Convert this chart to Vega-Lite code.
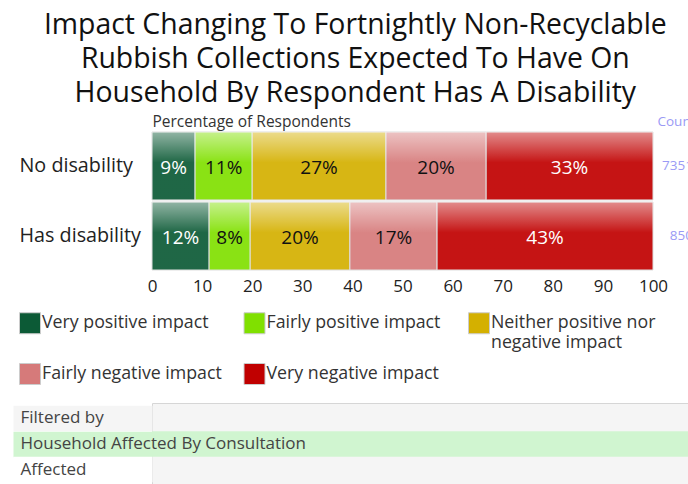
{
  "$schema": "https://vega.github.io/schema/vega-lite/v6.json",
  "background": "white",
  "padding": {"left": -1, "top": 10, "right": 0, "bottom": 0},
  "config": {
    "font": "Open Sans",
    "view": {"stroke": null}
  },
  "title": {
    "text": ["Impact Changing To Fortnightly Non-Recyclable", "Rubbish Collections Expected To Have On", "Household By Respondent Has A Disability"],
    "fontSize": 28.4,
    "fontWeight": "normal",
    "lineHeight": 34,
    "color": "#111111",
    "anchor": "middle",
    "offset": 6,
    "dx": 8
  },
  "columns": 1,
  "bounds": "full",
  "spacing": 108,
  "concat": [
    {
      "width": 501,
      "height": 138,
      "layer": [
        {
          "data": {"name": "bars"},
          "transform": [
            {"stack": "pct", "groupby": ["group"], "sort": [{"field": "order"}], "as": ["x0", "x1"]}
          ],
          "mark": {"type": "bar", "stroke": "#dddddd", "strokeWidth": 1},
          "encoding": {
            "y": {
              "field": "group", "type": "nominal", "sort": ["No disability", "Has disability"],
              "scale": {"paddingInner": 0.03, "paddingOuter": 0},
              "axis": {"title": null, "ticks": false, "domain": false, "labelAlign": "left", "labelPadding": 133, "labelFontSize": 19.75, "labelColor": "#222222"}
            },
            "x": {
              "field": "x0", "type": "quantitative", "scale": {"domain": [0, 100], "nice": false},
              "axis": {"title": null, "values": [0, 10, 20, 30, 40, 50, 60, 70, 80, 90, 100], "grid": false, "domain": false, "ticks": false, "labelPadding": 8, "labelFontSize": 17, "labelColor": "#222222", "labelFlush": false}
            },
            "x2": {"field": "x1"},
            "color": {
              "field": "impact", "type": "nominal",
              "scale": {
                "domain": ["Very positive impact", "Fairly positive impact", "Neither positive nor negative impact", "Fairly negative impact", "Very negative impact"],
                "range": ["#0c5a36", "#80e000", "#d4b000", "#d67a7a", "#c00000"]
              },
              "legend": {
                "title": null,
                "orient": "none",
                "legendX": -133,
                "legendY": 180,
                "direction": "horizontal",
                "columns": 3,
                "gridAlign": "all",
                "columnPadding": 19.5,
                "rowPadding": 9,
                "symbolType": "square",
                "symbolSize": 441,
                "symbolStrokeColor": "#cccccc",
                "symbolStrokeWidth": 1,
                "symbolOpacity": 1,
                "labelFontSize": 17.75,
                "labelColor": "#333333",
                "labelOffset": 1,
                "labelLimit": 300,
                "labelBaseline": "middle",
                "labelExpr": "datum.label == 'Neither positive nor negative impact' ? ['Neither positive nor', 'negative impact'] : (datum.label == 'Very positive impact' || datum.label == 'Fairly positive impact') ? [datum.label, ''] : datum.label"
              }
            }
          }
        },
        {
          "data": {"name": "bars"},
          "transform": [
            {"stack": "pct", "groupby": ["group"], "sort": [{"field": "order"}], "as": ["x0", "x1"]}
          ],
          "mark": {
            "type": "bar", "strokeWidth": 0,
            "color": {"gradient": "linear", "x1": 0, "y1": 0, "x2": 0, "y2": 1, "stops": [
              {"offset": 0, "color": "rgba(255,255,255,0.55)"},
              {"offset": 0.45, "color": "rgba(255,255,255,0.08)"},
              {"offset": 1, "color": "rgba(255,255,255,0.08)"}
            ]}
          },
          "encoding": {
            "y": {"field": "group", "type": "nominal", "sort": ["No disability", "Has disability"], "axis": null},
            "x": {"field": "x0", "type": "quantitative", "axis": null},
            "x2": {"field": "x1"}
          }
        },
        {
          "data": {"name": "bars"},
          "transform": [
            {"stack": "pct", "groupby": ["group"], "sort": [{"field": "order"}], "as": ["x0", "x1"]},
            {"calculate": "(datum.x0 + datum.x1) / 2", "as": "mid"}
          ],
          "mark": {"type": "text", "fontSize": 19, "baseline": "middle", "align": "center", "dy": 2},
          "encoding": {
            "y": {"field": "group", "type": "nominal", "sort": ["No disability", "Has disability"], "axis": null},
            "x": {"field": "mid", "type": "quantitative", "axis": null},
            "text": {"field": "label"},
            "color": {
              "condition": {"test": "datum.impact == 'Very positive impact' || datum.impact == 'Very negative impact'", "value": "#ffffff"},
              "value": "#111111"
            }
          }
        },
        {
          "data": {"name": "counts"},
          "mark": {"type": "text", "fontSize": 13.5, "align": "right", "baseline": "middle", "dx": 40, "color": "#9a9af5"},
          "encoding": {
            "y": {
              "field": "group", "type": "nominal", "sort": ["No disability", "Has disability"],
              "axis": {"orient": "right", "labels": false, "ticks": false, "domain": false, "title": "Count", "titleAngle": 0, "titleAlign": "left", "titleBaseline": "middle", "titleX": 4, "titleY": -11, "titleFontSize": 13.5, "titleFontWeight": "normal", "titleColor": "#9a9af5"}
            },
            "x": {
              "datum": 100, "type": "quantitative",
              "axis": {"orient": "top", "labels": false, "ticks": false, "domain": false, "grid": false, "title": "Percentage of Respondents", "titleAlign": "left", "titleAnchor": "start", "titleBaseline": "middle", "titleX": 0, "titleY": -11, "titleFontSize": 15.5, "titleFontWeight": "normal", "titleColor": "#333333"}
            },
            "text": {"field": "count"}
          }
        }
      ],
      "resolve": {"axis": {"x": "independent", "y": "independent"}}
    },
    {
      "width": 537,
      "height": 82,
      "data": {"name": "filter"},
      "view": {"fill": "#f5f5f5", "stroke": "#d6d6d6", "strokeWidth": 1},
      "transform": [{"filter": "datum.role == 'filter'"}],
      "mark": {"type": "rect", "color": "#d0f5d0"},
      "encoding": {
        "y": {
          "field": "row", "type": "nominal", "sort": ["Filtered by", "Household Affected By Consultation", "Affected"],
          "scale": {"domain": ["Filtered by", "Household Affected By Consultation", "Affected"], "paddingInner": 0, "paddingOuter": 0.1},
          "axis": {
            "title": null, "domain": false, "zindex": 1,
            "ticks": true, "tickBand": "center", "tickSize": 139, "tickWidth": 25.7, "tickCap": "butt",
            "tickColor": {
              "condition": [
                {"test": "datum.value == 'Household Affected By Consultation'", "value": "#d0f5d0"},
                {"test": "datum.value == 'Affected'", "value": "#ffffff"}
              ],
              "value": "#f5f5f5"
            },
            "labelAlign": "left", "labelPadding": -7, "labelLimit": 500, "labelFontSize": 17, "labelColor": "#444444"
          }
        },
        "x": {"datum": 0, "type": "quantitative", "scale": {"domain": [0, 1], "nice": false}, "axis": null},
        "x2": {"datum": 1}
      }
    }
  ],
  "datasets": {
    "bars": [
      {"group": "No disability", "impact": "Very positive impact", "order": 1, "pct": 8.6, "label": "9%"},
      {"group": "No disability", "impact": "Fairly positive impact", "order": 2, "pct": 11.4, "label": "11%"},
      {"group": "No disability", "impact": "Neither positive nor negative impact", "order": 3, "pct": 26.7, "label": "27%"},
      {"group": "No disability", "impact": "Fairly negative impact", "order": 4, "pct": 20.0, "label": "20%"},
      {"group": "No disability", "impact": "Very negative impact", "order": 5, "pct": 33.3, "label": "33%"},
      {"group": "Has disability", "impact": "Very positive impact", "order": 1, "pct": 11.4, "label": "12%"},
      {"group": "Has disability", "impact": "Fairly positive impact", "order": 2, "pct": 8.2, "label": "8%"},
      {"group": "Has disability", "impact": "Neither positive nor negative impact", "order": 3, "pct": 19.9, "label": "20%"},
      {"group": "Has disability", "impact": "Fairly negative impact", "order": 4, "pct": 17.4, "label": "17%"},
      {"group": "Has disability", "impact": "Very negative impact", "order": 5, "pct": 43.1, "label": "43%"}
    ],
    "counts": [
      {"group": "No disability", "count": "7351"},
      {"group": "Has disability", "count": "850"}
    ],
    "filter": [
      {"row": "Filtered by", "role": "header"},
      {"row": "Household Affected By Consultation", "role": "filter"},
      {"row": "Affected", "role": "value"}
    ]
  }
}
